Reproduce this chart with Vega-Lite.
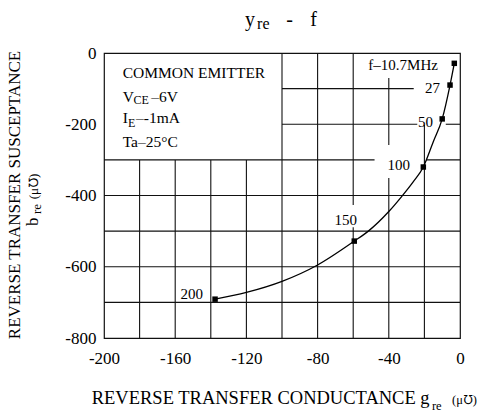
{
  "$schema": "https://vega.github.io/schema/vega-lite/v6.json",
  "width": 356,
  "height": 285,
  "autosize": {"type": "none"},
  "padding": {"left": 104, "top": 53, "right": 21, "bottom": 78},
  "background": "white",
  "config": {
    "font": "Liberation Serif",
    "view": {"stroke": "#111", "strokeWidth": 1.2},
    "text": {"font": "Liberation Serif", "color": "black", "baseline": "alphabetic"}
  },
  "datasets": {
    "grid": [
      {"x": -180, "x2": -180, "y": -300, "y2": -800},
      {"x": -160, "x2": -160, "y": -300, "y2": -800},
      {"x": -140, "x2": -140, "y": -300, "y2": -800},
      {"x": -120, "x2": -120, "y": -300, "y2": -800},
      {"x": -100, "x2": -100, "y": 0, "y2": -800},
      {"x": -80, "x2": -80, "y": 0, "y2": -800},
      {"x": -60, "x2": -60, "y": 0, "y2": -427},
      {"x": -60, "x2": -60, "y": -489, "y2": -800},
      {"x": -40, "x2": -40, "y": -70, "y2": -258},
      {"x": -40, "x2": -40, "y": -351, "y2": -800},
      {"x": -20, "x2": -20, "y": -202, "y2": -800},
      {"x": -100, "x2": -26, "y": -100, "y2": -100},
      {"x": -100, "x2": -24, "y": -200, "y2": -200},
      {"x": -8, "x2": 0, "y": -200, "y2": -200},
      {"x": -200, "x2": -48, "y": -300, "y2": -300},
      {"x": -19, "x2": 0, "y": -300, "y2": -300},
      {"x": -200, "x2": 0, "y": -400, "y2": -400},
      {"x": -200, "x2": 0, "y": -500, "y2": -500},
      {"x": -200, "x2": 0, "y": -600, "y2": -600},
      {"x": -200, "x2": 0, "y": -700, "y2": -700}
    ],
    "curve": [
      {"x": -137.6, "y": -691},
      {"x": -120, "y": -672},
      {"x": -100, "y": -641},
      {"x": -80, "y": -595},
      {"x": -59.4, "y": -528},
      {"x": -51.5, "y": -500},
      {"x": -40, "y": -445},
      {"x": -32.8, "y": -403},
      {"x": -26.2, "y": -361},
      {"x": -20.6, "y": -320},
      {"x": -15, "y": -249},
      {"x": -10, "y": -185},
      {"x": -5.6, "y": -90},
      {"x": -3.2, "y": -29}
    ],
    "points": [
      {"f": 10.7, "x": -3.2, "y": -29},
      {"f": 27, "x": -5.6, "y": -90},
      {"f": 50, "x": -10, "y": -185},
      {"f": 100, "x": -20.6, "y": -320},
      {"f": 150, "x": -59.4, "y": -528},
      {"f": 200, "x": -137.6, "y": -691}
    ],
    "legendMain": [
      {"t": "COMMON EMITTER", "x": -189.5, "y": -69.3},
      {"t": "V", "x": -189.5, "y": -136.7},
      {"t": "–6V", "x": -173.5, "y": -136.7},
      {"t": "I", "x": -189.5, "y": -196.5},
      {"t": "–-1mA", "x": -182, "y": -196.5},
      {"t": "Ta–25°C", "x": -189.5, "y": -263}
    ],
    "legendSub": [
      {"t": "CE", "x": -183.4, "y": -144},
      {"t": "E", "x": -186.5, "y": -206.9}
    ],
    "ptLabels": [
      {"t": "f–10.7MHz", "x": -12.4, "y": -47.7},
      {"t": "27", "x": -11.2, "y": -112.3},
      {"t": "50", "x": -15.2, "y": -207.7},
      {"t": "100", "x": -28.1, "y": -328.4},
      {"t": "150", "x": -57.9, "y": -482.8},
      {"t": "200", "x": -144.4, "y": -690.5}
    ],
    "titleMain": [
      {"t": "y", "x": -118, "y": 75.8},
      {"t": "-", "x": -95.8, "y": 75.8},
      {"t": "f", "x": -82.3, "y": 75.8}
    ],
    "titleSub": [
      {"t": "re", "x": -114, "y": 67.4}
    ],
    "xTitleMain": [
      {"t": "REVERSE TRANSFER CONDUCTANCE g", "x": -206.9, "y": -985.3}
    ],
    "xTitleSmall": [
      {"t": "re", "x": -15.8, "y": -1002},
      {"t": "(μ℧)", "x": -4.5, "y": -985.3}
    ],
    "yTitleMain": [
      {"t": "REVERSE TRANSFER SUSCEPTANCE", "x": -247.2, "y": -398.6}
    ],
    "yTitle2": [
      {"t": "b", "x": -237.1, "y": -485.6}
    ],
    "yTitle2Small": [
      {"t": "re", "x": -235.4, "y": -452},
      {"t": "(μ℧)", "x": -237.1, "y": -410.7}
    ]
  },
  "encoding": {
    "x": {
      "field": "x", "type": "quantitative",
      "scale": {"domain": [-200, 0], "nice": false, "zero": false},
      "axis": {
        "values": [-200, -160, -120, -80, -40, 0],
        "grid": false, "ticks": false, "domain": false,
        "labelFont": "Liberation Serif", "labelFontSize": 17, "labelColor": "black",
        "labelPadding": 12, "labelFlush": false, "labelOverlap": false,
        "labelExpr": "datum.value + ''", "title": null
      }
    },
    "y": {
      "field": "y", "type": "quantitative",
      "scale": {"domain": [-800, 0], "nice": false, "zero": false},
      "axis": {
        "values": [-800, -600, -400, -200, 0],
        "grid": false, "ticks": false, "domain": false,
        "labelFont": "Liberation Serif", "labelFontSize": 17, "labelColor": "black",
        "labelPadding": 8, "labelFlush": false, "labelOverlap": false,
        "labelExpr": "datum.value + ''", "title": null
      }
    }
  },
  "layer": [
    {
      "data": {"name": "grid"},
      "mark": {"type": "rule", "color": "#111", "strokeWidth": 1.1},
      "encoding": {
        "x2": {"field": "x2"},
        "y2": {"field": "y2"}
      }
    },
    {
      "data": {"name": "curve"},
      "mark": {"type": "line", "interpolate": "monotone", "color": "black", "strokeWidth": 1.3},
      "encoding": {"order": {"field": "x", "type": "quantitative"}}
    },
    {
      "data": {"name": "points"},
      "mark": {"type": "point", "shape": "square", "filled": true, "color": "black", "size": 30, "opacity": 1},
      "encoding": {}
    },
    {
      "data": {"name": "legendMain"},
      "mark": {"type": "text", "align": "left", "fontSize": 15.5},
      "encoding": {"text": {"field": "t"}}
    },
    {
      "data": {"name": "legendSub"},
      "mark": {"type": "text", "align": "left", "fontSize": 12},
      "encoding": {"text": {"field": "t"}}
    },
    {
      "data": {"name": "ptLabels"},
      "mark": {"type": "text", "align": "right", "fontSize": 15},
      "encoding": {"text": {"field": "t"}}
    },
    {
      "data": {"name": "titleMain"},
      "mark": {"type": "text", "align": "center", "fontSize": 20},
      "encoding": {"text": {"field": "t"}}
    },
    {
      "data": {"name": "titleSub"},
      "mark": {"type": "text", "align": "left", "fontSize": 16},
      "encoding": {"text": {"field": "t"}}
    },
    {
      "data": {"name": "xTitleMain"},
      "mark": {"type": "text", "align": "left", "fontSize": 18.5},
      "encoding": {"text": {"field": "t"}}
    },
    {
      "data": {"name": "xTitleSmall"},
      "mark": {"type": "text", "align": "left", "fontSize": 12.5},
      "encoding": {"text": {"field": "t"}}
    },
    {
      "data": {"name": "yTitleMain"},
      "mark": {"type": "text", "align": "center", "angle": 270, "fontSize": 17},
      "encoding": {"text": {"field": "t"}}
    },
    {
      "data": {"name": "yTitle2"},
      "mark": {"type": "text", "align": "left", "angle": 270, "fontSize": 17},
      "encoding": {"text": {"field": "t"}}
    },
    {
      "data": {"name": "yTitle2Small"},
      "mark": {"type": "text", "align": "left", "angle": 270, "fontSize": 13},
      "encoding": {"text": {"field": "t"}}
    }
  ]
}
